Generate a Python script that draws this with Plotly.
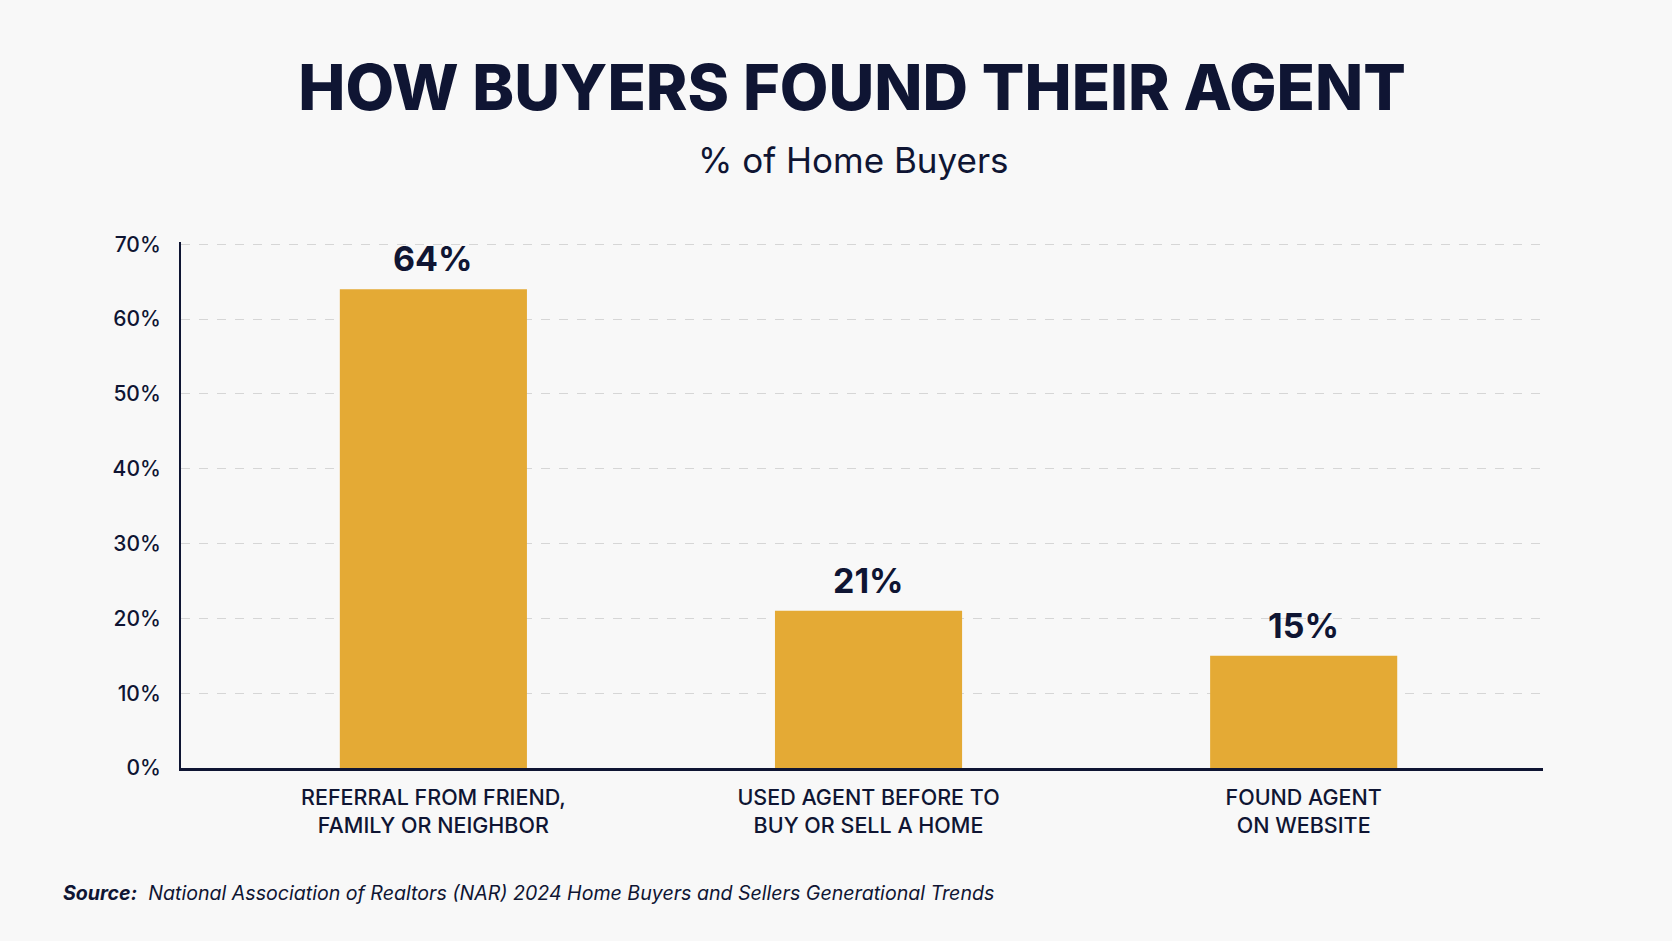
import plotly.graph_objects as go

categories = ["Referral", "Used before", "Website"]
tick_labels = [
    "REFERRAL FROM FRIEND,<br>FAMILY OR NEIGHBOR",
    "USED AGENT BEFORE TO<br>BUY OR SELL A HOME",
    "FOUND AGENT<br>ON WEBSITE",
]
shares = [64, 21, 15]
y_ticks = [0, 10, 20, 30, 40, 50, 60, 70]

NAVY = "#0f1533"
GOLD = "#e4aa35"
BG = "#f8f8f8"
FONT = "Inter, Roboto, sans-serif"

fig = go.Figure()
fig.add_trace(go.Bar(
    x=categories, y=shares, width=0.43,
    marker=dict(color=GOLD, line=dict(width=0)),
    hoverinfo="skip",
))

# value labels above bars
for c, v in zip(categories, shares):
    fig.add_annotation(x=c, y=v, text=f"{v}%", showarrow=False,
                       yanchor="bottom", yshift=8,
                       font=dict(family=FONT, size=34, color=NAVY, weight=700))

fig.add_annotation(xref="paper", yref="paper", x=-0.088, y=-0.238,
                   xanchor="left", yanchor="middle", showarrow=False,
                   text="<b><i>Source:</i></b>  <i>National Association of Realtors (NAR) 2024 Home Buyers and Sellers Generational Trends</i>",
                   font=dict(family=FONT, size=19.6, color=NAVY))

fig.update_layout(
    width=1672, height=941,
    paper_bgcolor=BG, plot_bgcolor=BG,
    margin=dict(l=181, r=129, t=242, b=173),
    showlegend=False,
    title=dict(text="HOW BUYERS FOUND THEIR AGENT",
               x=0.5096, xanchor="center", y=1 - 88 / 941, yanchor="middle",
               xref="container", yref="container",
               font=dict(family=FONT, size=63, color=NAVY, weight=800)),
    font=dict(family=FONT, color=NAVY),
)
fig.add_annotation(xref="paper", yref="paper", x=0.4934, y=1 + (242 - 160) / 526,
                   xanchor="center", yanchor="middle", showarrow=False,
                   text="% of Home Buyers",
                   font=dict(family=FONT, size=35, color=NAVY))

fig.update_xaxes(
    type="category", range=[-0.58, 2.55],
    tickvals=categories, ticktext=tick_labels,
    tickfont=dict(family=FONT, size=21.5, color=NAVY, weight=550),
    showline=True, linecolor=NAVY, linewidth=2.5,
    showgrid=False, ticks="", ticklabelstandoff=8,
)
fig.update_yaxes(
    range=[0, 70.3], tickvals=y_ticks, ticktext=[f"{t}%" for t in y_ticks],
    tickfont=dict(family=FONT, size=21, color=NAVY, weight=550),
    showline=True, linecolor=NAVY, linewidth=2,
    showgrid=True, gridcolor="#d6d6d6", griddash="dash", gridwidth=1.4,
    zeroline=False, ticks="", ticklabelstandoff=14,
)

fig.write_html("out.html", config={"displayModeBar": False}, post_script=(
    "document.body.style.margin='0';"
    f"document.body.style.background='{BG}';"
))
